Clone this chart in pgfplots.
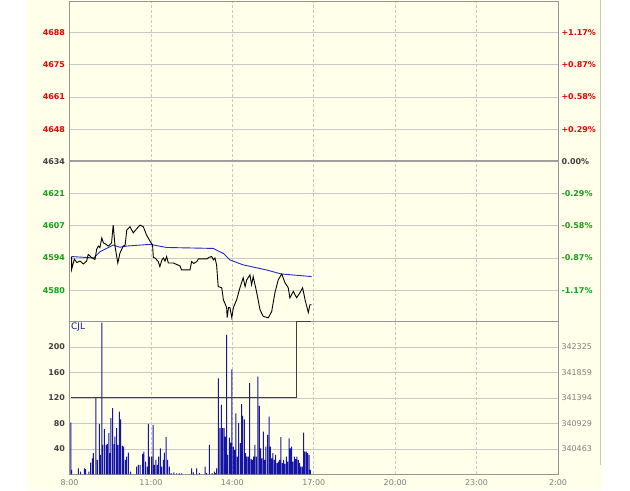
\documentclass[border=0pt]{standalone}
\usepackage{pgfplots}
\pgfplotsset{compat=1.18}
\usepackage{fontspec}
\setmainfont{DejaVu Sans}
\definecolor{bgy}{RGB}{255,255,234}
\definecolor{gridg}{RGB}{200,200,200}
\definecolor{frameg}{RGB}{150,150,150}
\definecolor{redl}{RGB}{235,0,0}
\definecolor{grnl}{RGB}{20,160,20}
\definecolor{darkl}{RGB}{64,64,64}
\definecolor{greyl}{RGB}{128,128,128}
\definecolor{volblue}{RGB}{20,20,165}
\definecolor{avgblue}{RGB}{40,40,200}

\pgfplotstableread{
h p
8.08 4594.1
8.08 4588.8
8.18 4593.0
8.27 4591.6
8.39 4592.2
8.51 4591.0
8.63 4592.2
8.69 4595.0
8.82 4593.6
8.94 4592.9
9.00 4597.1
9.06 4598.5
9.12 4597.8
9.19 4601.9
9.25 4599.8
9.31 4599.5
9.43 4598.5
9.55 4599.8
9.61 4607.3
9.68 4598.2
9.78 4591.4
9.86 4595.6
9.98 4598.5
10.05 4598.9
10.11 4605.2
10.23 4606.6
10.35 4604.0
10.48 4605.8
10.60 4607.3
10.72 4606.6
10.84 4603.1
10.97 4600.5
11.06 4599.0
11.09 4593.7
11.15 4593.5
11.27 4592.0
11.33 4589.9
11.40 4592.5
11.46 4593.5
11.52 4592.2
11.58 4594.1
11.64 4591.4
11.82 4591.4
12.07 4590.2
12.13 4588.5
12.44 4588.5
12.50 4592.0
12.58 4591.2
12.69 4592.0
12.75 4593.1
13.06 4593.1
13.15 4593.8
13.24 4594.1
13.30 4592.7
13.36 4593.5
13.42 4590.6
13.48 4581.5
13.61 4581.0
13.67 4576.0
13.79 4572.7
13.81 4568.5
13.86 4572.7
13.91 4572.7
13.98 4568.5
14.04 4572.7
14.16 4576.0
14.28 4581.0
14.40 4585.2
14.47 4581.5
14.53 4584.3
14.65 4586.4
14.71 4582.3
14.77 4585.7
14.90 4578.9
15.02 4571.8
15.14 4569.0
15.33 4568.4
15.45 4571.1
15.57 4578.9
15.69 4584.3
15.82 4586.8
15.94 4583.1
16.06 4581.0
16.12 4576.8
16.25 4579.5
16.37 4576.8
16.49 4578.9
16.59 4581.0
16.68 4576.0
16.80 4570.6
16.86 4573.9
16.92 4573.9
}\pricetab

\pgfplotstableread{
h p
8.08 4594.1
8.90 4593.5
9.12 4596.1
9.61 4598.9
9.86 4598.0
10.11 4598.5
10.97 4599.2
11.58 4597.9
13.30 4597.5
13.67 4595.4
13.91 4592.7
14.40 4590.6
15.25 4588.5
15.80 4586.8
16.92 4585.7
}\avgtab

\pgfplotstableread{
h v
8.055 81.3
8.080 7
8.325 9.6
8.411 4.4
8.547 9.6
8.596 8.1
8.718 4.4
8.780 18.5
8.841 25.3
8.878 33.2
8.976 120.5
9.026 22.7
9.099 78.7
9.136 30.6
9.197 238
9.222 46.3
9.283 70.9
9.345 46.3
9.394 47.3
9.455 64.6
9.492 33.2
9.529 88.1
9.591 103.8
9.640 47.3
9.676 59.3
9.738 72.4
9.787 46.3
9.836 98.5
9.885 86.5
9.947 44.7
9.996 43.6
10.057 22.7
10.106 28.0
10.168 34.2
10.254 4.4
10.475 12.3
10.536 14.9
10.598 14.9
10.696 32.1
10.745 35.8
10.806 20.1
10.868 12.3
10.905 78.7
10.942 28.0
11.028 28.0
11.077 77.6
11.126 14.9
11.187 22.7
11.236 14.9
11.285 28.0
11.347 41.0
11.396 12.3
11.457 22.7
11.494 34.2
11.556 58.3
11.617 22.7
11.678 12.3
11.740 2
11.850 3
11.949 1.5
12.047 1.5
12.133 1.5
12.501 9.6
12.563 3
12.686 9.6
12.784 2
12.993 12.3
13.054 2
13.152 46.3
13.251 2
13.337 4.4
13.386 2
13.423 9.6
13.484 150.8
13.545 72.4
13.594 109
13.644 72.4
13.693 72.4
13.742 59.3
13.791 218.8
13.828 30.6
13.889 57.8
13.938 49.9
13.987 164.9
14.037 43.6
14.086 38.4
14.135 95.9
14.184 28
14.233 80.3
14.295 48.9
14.344 110.1
14.381 91.8
14.442 86.5
14.491 33.2
14.540 28
14.589 28
14.638 143
14.688 23.8
14.737 22.7
14.786 28
14.835 46.3
14.884 28
14.945 153.5
14.995 107.4
15.044 41
15.093 25.3
15.142 67.2
15.191 22.7
15.240 43.6
15.302 62
15.351 90.7
15.400 43.6
15.449 25.3
15.498 33.2
15.547 22.7
15.596 30.6
15.646 17.5
15.695 20.1
15.744 22.7
15.793 58.3
15.842 17.5
15.891 22.7
15.940 16.5
15.989 28
16.038 20.1
16.088 56.7
16.137 41
16.186 43.6
16.235 20.1
16.284 28
16.333 23.8
16.382 28
16.432 22.7
16.481 17.5
16.530 12.3
16.579 12.3
16.628 65.6
16.677 35.8
16.726 35.8
16.776 33.2
16.825 30.6
16.874 7
}\voltab

\pgfplotstableread{
h c
8.06 341394
16.35 341394
16.35 342785
16.89 342785
}\cumtab

\pgfplotsset{
  common/.style={
    scale only axis, width=488.5bp, xmin=8, xmax=26,
    axis background/.style={fill=none},
    major tick length=0pt, minor tick length=0pt,
    scaled x ticks=false, scaled y ticks=false,
    axis line style={frameg, line width=0.8bp},
    x grid style={gridg, densely dashed, line width=0.6bp},
    y grid style={gridg, line width=0.8bp},
    clip=true,
  },
  plab/.style={font=\fontsize{8}{9}\selectfont\bfseries},
}

\begin{document}
\begin{tikzpicture}
\fill[white] (0,0) rectangle (630bp,490bp);
\fill[bgy] (27bp,0) rectangle (603bp,490bp);
\draw[gridg, line width=0.8bp] (600bp,25bp) -- (600bp,490bp);

% price panel
\begin{axis}[common, at={(69.5bp,169bp)}, anchor=south west, height=320bp,
  ymin=4566.9, ymax=4701.1,
  xtick={8,11,14,17,20,23,26}, xticklabels={}, xmajorgrids,
  ytick={4580,4593.5,4607,4620.5,4634,4647.5,4661,4674.5,4688}, ymajorgrids,
  yticklabels={\textcolor{grnl}{4580},\textcolor{grnl}{4594},\textcolor{grnl}{4607},\textcolor{grnl}{4621},\textcolor{darkl}{4634},\textcolor{redl}{4648},\textcolor{redl}{4661},\textcolor{redl}{4675},\textcolor{redl}{4688}},
  yticklabel style={plab, xshift=-1bp},
]
\draw[gray!75, line width=1.8bp] (axis cs:8,4634) -- (axis cs:26,4634);
\addplot[avgblue, line width=0.9bp] table[x=h,y=p] {\avgtab};
\addplot[black, line width=0.9bp] table[x=h,y=p] {\pricetab};
\end{axis}
\begin{axis}[common, at={(69.5bp,169bp)}, anchor=south west, height=320bp,
  ymin=4566.9, ymax=4701.1, axis x line=none, axis y line*=right,
  ytick={4580,4593.5,4607,4620.5,4634,4647.5,4661,4674.5,4688},
  yticklabels={\textcolor{grnl}{-1.17\%},\textcolor{grnl}{-0.87\%},\textcolor{grnl}{-0.58\%},\textcolor{grnl}{-0.29\%},\textcolor{darkl}{0.00\%},\textcolor{redl}{+0.29\%},\textcolor{redl}{+0.58\%},\textcolor{redl}{+0.87\%},\textcolor{redl}{+1.17\%}},
  yticklabel style={plab, xshift=0bp},
]
\end{axis}

% volume panel
\begin{axis}[common, at={(69.5bp,16bp)}, anchor=south west, height=153bp,
  ymin=0, ymax=240,
  xtick={8,11,14,17,20,23,26}, xticklabels={8:00,11:00,14:00,17:00,20:00,23:00,2:00},
  xmajorgrids, ymajorgrids,
  xticklabel style={font=\fontsize{8}{9}\selectfont, text=greyl, yshift=-2bp},
  ytick={40,80,120,160,200},
  yticklabels={40,80,120,160,200},
  yticklabel style={plab, text=darkl, xshift=-1bp},
]
\addplot[ybar, bar width=1bp, fill=volblue, draw=none] table[x=h,y=v] {\voltab};
\node[anchor=north west, inner sep=1.5bp, text=volblue, font=\fontsize{9}{10}\selectfont] at (rel axis cs:0,1) {CJL};
\end{axis}
\begin{axis}[common, at={(69.5bp,16bp)}, anchor=south west, height=153bp,
  ymin=339998, ymax=342790, axis x line=none, axis y line*=right,
  ytick={340463,340929,341394,341859,342325},
  yticklabels={340463,340929,341394,341859,342325},
  yticklabel style={font=\fontsize{8}{9}\selectfont, text=greyl},
]
\addplot[darkl, line width=1.1bp] table[x=h,y=c] {\cumtab};
\end{axis}
\end{tikzpicture}
\end{document}
